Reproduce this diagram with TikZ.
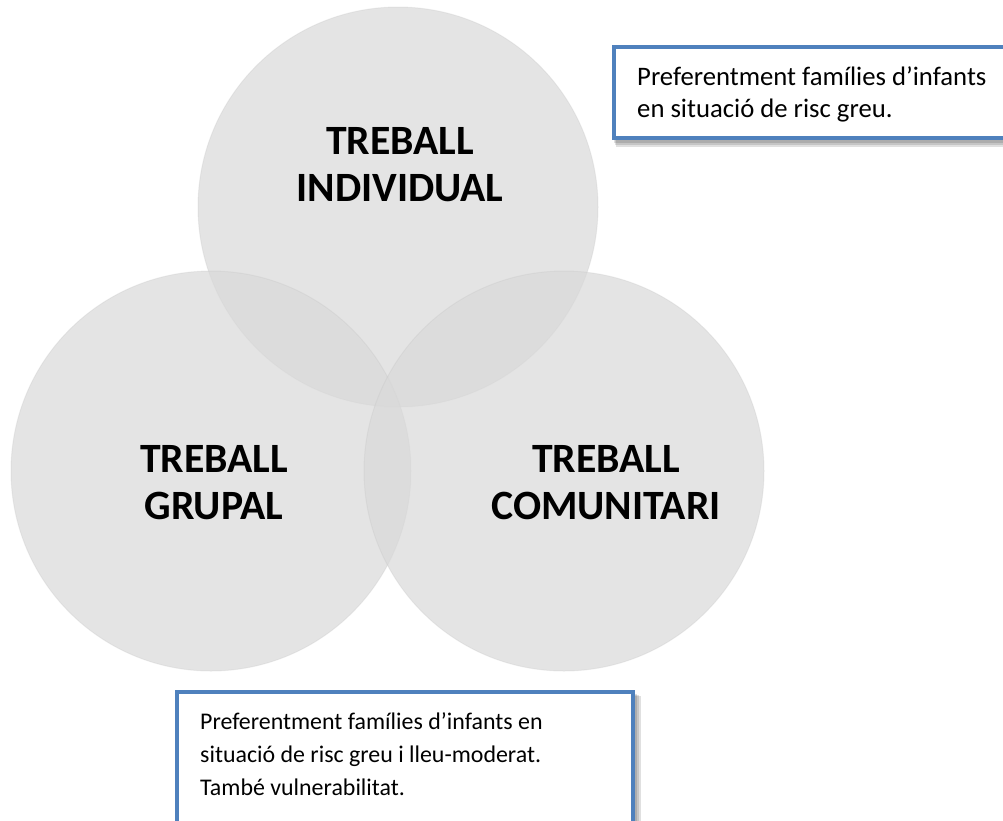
\documentclass[tikz,border=0pt]{standalone}
\usepackage{fontspec}
\setmainfont{Carlito}
\definecolor{boxblue}{HTML}{4F81BD}
\definecolor{circfill}{HTML}{D9D9D9}
\begin{document}
\begin{tikzpicture}[x=1pt,y=-1pt,
  venn/.style={circle, minimum size=400pt, inner sep=0pt, fill=circfill,
    fill opacity=0.7, draw=gray!50, draw opacity=0.25, line width=1pt},
  titletxt/.style={font=\bfseries\fontsize{41.7}{47}\selectfont, align=center, inner sep=0pt},
  notebox/.style={draw=boxblue, line width=4pt, fill=white},
  boxshadow/.style={fill=black, fill opacity=0.12},
  notetxt/.style={align=left, inner sep=0pt, anchor=base west}
]
\useasboundingbox (0,0) rectangle (1003,820);
\node[venn] (ci) at (398,207) {};
\node[venn] (cg) at (211,471) {};
\node[venn] (cc) at (564,471) {};

\node[titletxt] (ti) at (400,165) {TREBALL\\INDIVIDUAL};
\node[titletxt] (tg) at (214,482.5) {TREBALL\\GRUPAL};
\node[titletxt] (tc) at (606,482.5) {TREBALL\\COMUNITARI};

% box shadows (soft, layered)
\path[boxshadow] (616,51) rectangle (1016,147);
\path[boxshadow] (615,50) rectangle (1015,145);
\path[boxshadow] (614,49) rectangle (1014,143);
\path[notebox] (614,47) rectangle (1012,138);
\node[notetxt, font=\fontsize{26.7}{32}\selectfont] (n1) at (637,117)
  {Preferentment famílies d’infants\\en situació de risc greu.};

\path[boxshadow] (179,696) rectangle (641,840);
\path[boxshadow] (178,695) rectangle (639,840);
\path[boxshadow] (177,694) rectangle (637,840);
\path[notebox] (177,692) rectangle (633,835);
\node[notetxt, font=\fontsize{23.9}{33}\selectfont] (n2) at (200,795)
  {Preferentment famílies d’infants en\\situació de risc greu i lleu-moderat.\\També vulnerabilitat.};
\end{tikzpicture}
\end{document}
